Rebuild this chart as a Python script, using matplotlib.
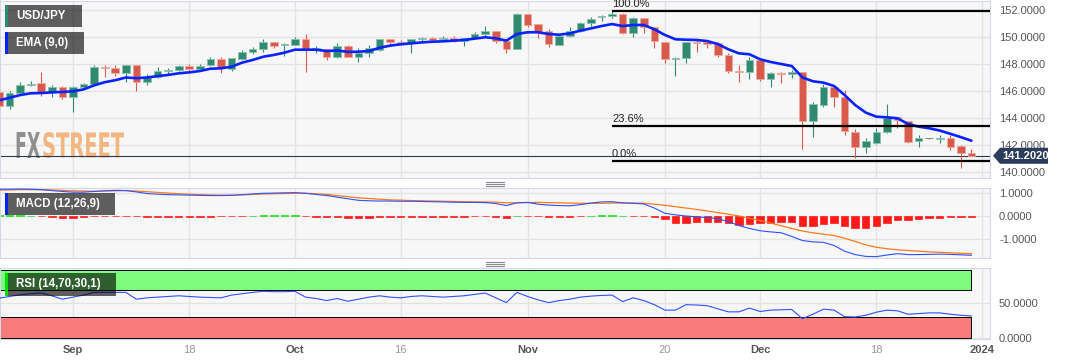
import numpy as np
import pandas as pd
import matplotlib
matplotlib.use("Agg")
from matplotlib import pyplot as plt
from matplotlib.patches import Rectangle, Polygon, PathPatch
from matplotlib.lines import Line2D
from matplotlib.textpath import TextPath
from matplotlib.font_manager import FontProperties
from matplotlib.path import Path

plt.rcParams['font.family'] = ['Liberation Sans', 'DejaVu Sans']

# trading days shown (Aug 23 .. Dec 29, 2023)
days = pd.bdate_range('2023-08-23', '2023-12-29')

opens = [145.95, 144.89, 145.88, 146.45, 146.57, 145.90, 146.27, 145.58, 146.27, 146.52, 147.80, 147.70, 147.36, 147.90, 146.64, 147.06, 147.46, 147.56,
         147.85, 147.65, 147.90, 148.37, 147.60, 148.37, 148.91, 149.09, 149.65, 149.43, 149.43, 149.85, 149.09, 149.14, 148.54, 149.33,
         148.54, 148.79, 149.04, 149.83, 149.60, 149.53, 149.85, 149.95, 149.83, 149.90, 149.70, 149.95, 150.25, 150.44, 149.70, 149.14, 151.70,
         150.96, 150.44, 149.41, 150.07, 150.47, 151.01, 151.46, 151.58, 151.68, 150.27, 151.43, 150.77, 149.65, 148.37, 148.42, 149.65,
         149.65, 149.53, 148.67, 147.51, 147.38, 148.30, 146.86, 147.36, 147.26, 147.43, 143.78, 144.96, 146.27, 145.58, 142.99, 141.88, 142.17,
         142.99, 144.05, 143.80, 142.30, 142.49, 142.47, 142.49, 141.95, 141.43]
highs = [146.15, 146.02, 146.69, 146.77, 147.40, 146.44, 146.37, 146.37, 146.62, 147.90, 147.90, 147.90, 147.90, 147.90, 147.26, 147.80, 147.68, 147.95,
         148.00, 147.98, 148.49, 148.54, 148.42, 149.04, 149.28, 149.83, 149.65, 149.58, 149.98, 150.20, 149.36, 149.14, 149.58, 149.41,
         149.16, 149.41, 149.83, 149.83, 149.78, 149.83, 149.98, 150.02, 150.07, 150.07, 149.95, 150.35, 150.81, 150.44, 149.83, 151.75, 151.70,
         150.96, 150.57, 150.07, 150.72, 151.11, 151.46, 151.63, 151.95, 151.80, 151.51, 151.43, 150.77, 149.65, 148.54, 149.65, 149.78,
         149.65, 149.65, 148.79, 147.93, 148.54, 148.42, 147.43, 147.43, 147.56, 147.43, 145.21, 146.52, 146.37, 146.07, 143.16, 142.49, 143.23,
         145.04, 144.10, 143.80, 142.74, 142.52, 142.74, 142.74, 142.00, 141.70]
lows = [144.70, 144.64, 145.78, 146.37, 145.63, 145.58, 145.38, 144.47, 146.12, 146.44, 147.06, 147.11, 146.69, 145.98, 146.44, 146.94, 147.26, 147.50,
        147.36, 147.51, 147.85, 147.36, 147.51, 148.30, 148.74, 148.91, 149.16, 148.59, 149.43, 147.41, 148.79, 148.27, 148.42, 148.49,
        148.17, 148.49, 148.99, 149.43, 149.41, 148.79, 149.53, 149.65, 149.73, 149.65, 149.36, 149.95, 150.02, 149.53, 148.84, 149.09, 150.72,
        149.90, 149.23, 149.41, 149.98, 150.40, 150.81, 151.21, 151.41, 150.20, 150.02, 150.32, 149.21, 148.10, 147.11, 148.05, 148.91,
        149.21, 148.54, 147.36, 146.69, 146.86, 146.72, 146.27, 146.57, 146.94, 141.68, 142.57, 144.84, 144.79, 142.74, 141.01, 141.43, 142.07,
        142.86, 143.28, 142.12, 141.88, 142.46, 142.12, 141.63, 140.27, 141.20]
closes = [144.89, 145.88, 146.44, 146.52, 145.93, 146.27, 145.58, 146.27, 146.52, 147.80, 147.70, 147.36, 147.90, 146.64, 147.06, 147.51, 147.56, 147.88,
          147.65, 147.88, 148.37, 147.73, 148.42, 148.89, 149.09, 149.65, 149.36, 149.48, 149.85, 149.09, 149.16, 148.54, 149.33, 148.54,
          148.79, 149.19, 149.83, 149.63, 149.53, 149.83, 149.90, 149.80, 149.90, 149.73, 149.90, 150.25, 150.44, 149.70, 149.14, 151.70, 150.89,
          150.40, 149.46, 150.07, 150.47, 151.01, 151.36, 151.58, 151.68, 150.27, 151.43, 150.77, 149.73, 148.35, 148.42, 149.65, 149.53,
          149.51, 148.67, 147.51, 147.38, 148.30, 146.91, 147.31, 147.26, 147.43, 143.78, 145.01, 146.27, 145.53, 143.04, 141.88, 142.30, 142.94,
          143.98, 143.85, 142.25, 142.49, 142.49, 142.54, 141.88, 141.43, 141.20]
ema9 = [145.3, 145.5, 145.7, 145.83, 145.85, 145.9, 145.93, 145.98, 146.12, 146.42, 146.65, 146.8, 147.0, 146.95, 147.0, 147.1, 147.19, 147.31,
        147.38, 147.48, 147.65, 147.68, 147.8, 148.1, 148.3, 148.54, 148.67, 148.84, 149.06, 149.06, 149.06, 148.96, 149.0, 148.9,
        148.91, 148.96, 149.2, 149.36, 149.46, 149.53, 149.6, 149.65, 149.68, 149.73, 149.78, 149.88, 149.98, 149.9, 149.73, 150.22, 150.35,
        150.35, 150.22, 150.17, 150.27, 150.47, 150.64, 150.81, 150.96, 150.81, 150.89, 150.89, 150.57, 150.15, 149.83, 149.8, 149.78,
        149.7, 149.48, 149.09, 148.79, 148.72, 148.35, 148.15, 148.0, 147.85, 147.01, 146.72, 146.62, 146.37, 145.7, 144.96, 144.4, 144.1,
        144.05, 143.98, 143.56, 143.36, 143.24, 143.07, 142.83, 142.58, 142.32]

macd_line = [1.18, 1.18, 1.19, 1.18, 1.16, 1.12, 1.08, 1.05, 1.05, 1.08, 1.11, 1.13, 1.12, 1.06, 0.99, 0.96, 0.94, 0.93,
             0.92, 0.91, 0.90, 0.90, 0.91, 0.94, 0.97, 1.00, 1.01, 1.02, 1.03, 1.00, 0.95, 0.90, 0.83, 0.76,
             0.69, 0.67, 0.66, 0.66, 0.65, 0.65, 0.64, 0.63, 0.62, 0.61, 0.60, 0.60, 0.59, 0.55, 0.46, 0.58, 0.60,
             0.52, 0.48, 0.46, 0.45, 0.50, 0.57, 0.62, 0.63, 0.58, 0.56, 0.53, 0.35, 0.12, 0.05, 0.00, -0.04,
             -0.07, -0.12, -0.25, -0.42, -0.55, -0.65, -0.70, -0.74, -0.90, -1.08, -1.14, -1.16, -1.30, -1.55, -1.70, -1.78, -1.79,
             -1.72, -1.66, -1.70, -1.70, -1.69, -1.68, -1.69, -1.71, -1.73]
signal_line = [1.14, 1.15, 1.16, 1.16, 1.16, 1.15, 1.13, 1.11, 1.10, 1.09, 1.10, 1.11, 1.12, 1.10, 1.07, 1.04, 1.01, 0.98,
               0.96, 0.94, 0.93, 0.92, 0.92, 0.93, 0.95, 0.97, 0.98, 0.99, 1.00, 1.00, 0.98, 0.95, 0.90, 0.85,
               0.80, 0.77, 0.74, 0.71, 0.70, 0.68, 0.67, 0.66, 0.65, 0.64, 0.63, 0.62, 0.62, 0.61, 0.58, 0.58, 0.59,
               0.60, 0.59, 0.58, 0.57, 0.56, 0.56, 0.56, 0.57, 0.57, 0.57, 0.56, 0.52, 0.47, 0.41, 0.35, 0.29,
               0.22, 0.15, 0.08, 0.00, -0.10, -0.20, -0.31, -0.43, -0.55, -0.66, -0.74, -0.80, -0.86, -0.98, -1.12, -1.27, -1.38,
               -1.44, -1.49, -1.52, -1.55, -1.58, -1.60, -1.62, -1.64, -1.66]
macd_hist = [0.03, 0.03, 0.03, 0.02, 0.00, -0.03, -0.07, -0.07, -0.06, -0.02, -0.01, -0.01, -0.01, -0.02, -0.03, -0.03, -0.03, -0.03,
             -0.03, -0.03, -0.03, -0.02, -0.02, 0.00, 0.02, 0.03, 0.03, 0.03, 0.03, 0.00, -0.03, -0.04, -0.05, -0.09,
             -0.09, -0.09, -0.04, -0.04, -0.04, -0.03, -0.03, -0.03, -0.03, -0.03, -0.03, -0.02, -0.02, -0.03, -0.08, 0.01, 0.00,
             -0.02, -0.04, -0.04, -0.03, -0.01, 0.01, 0.03, 0.04, 0.01, -0.01, -0.01, -0.03, -0.15, -0.30, -0.30, -0.25,
             -0.25, -0.25, -0.33, -0.38, -0.35, -0.33, -0.30, -0.25, -0.25, -0.42, -0.42, -0.35, -0.30, -0.42, -0.53, -0.53, -0.44,
             -0.30, -0.18, -0.17, -0.14, -0.10, -0.07, -0.05, -0.05, -0.05]
rsi14 = [57.5, 60, 62.4, 64, 65, 61, 56, 59, 62, 66, 66, 66, 66, 56, 58, 59, 60, 61,
         60, 59, 58.5, 58, 62, 64, 66, 67.5, 67, 67, 67.5, 59, 57, 54, 57, 53,
         56, 59, 61, 59, 58, 60, 61, 60, 59, 60, 61, 63, 65, 58, 51, 66, 60,
         55, 51, 54, 56, 59, 60.5, 61.5, 62, 52.5, 58, 54, 48, 40, 40, 48, 47.5,
         46.5, 42, 37.5, 37.5, 43, 38, 40, 40.5, 41, 27.5, 34, 41.5, 40, 30.5, 30, 32.5, 37,
         40, 39, 34, 35, 36, 36, 34, 32.5, 31.5]

fib_start = '2023-11-13'
fib_levels = [151.93, 143.42, 140.81]
fib_labels = ['100.0%', '23.6%', '0.0%']
last_price = 141.202

price_ticks = [140, 142, 144, 146, 148, 150, 152]
macd_ticks = [-1, 0, 1]
rsi_ticks = [0, 50]
tick_dates = ['2023-09-01', '2023-09-18', '2023-10-02', '2023-10-16', '2023-11-01',
              '2023-11-20', '2023-12-01', '2023-12-18', '2024-01-01']
tick_labels = ['Sep', '18', 'Oct', '16', 'Nov', '20', 'Dec', '18', '2024']

GREEN = '#2f8a70'
RED = '#d85a4b'
GREY = '#7a7a7a'
BG = '#f7f7f7'
GRID = '#e3e3e3'
SPINE = '#d3d8e5'

W, H = 1067, 360
fig = plt.figure(figsize=(W / 100, H / 100), dpi=100)
fig.patch.set_facecolor('white')


def px_box(x0, y0, x1, y1):
    # pixel box with top-left origin -> [left, bottom, width, height] in figure fraction
    return [x0 / W, 1 - y1 / H, (x1 - x0) / W, (y1 - y0) / H]


ax = fig.add_axes(px_box(0, 0.5, 990, 178))
ax_macd = fig.add_axes(px_box(0, 187.5, 990, 258))
ax_rsi = fig.add_axes(px_box(0, 268, 990, 338.5))

all_days = pd.bdate_range('2023-08-23', '2024-01-01')
offset = all_days.get_loc(pd.Timestamp('2023-09-01'))
x = np.arange(len(days)) - offset
tick_x = [all_days.get_loc(pd.Timestamp(d)) - offset for d in tick_dates]
fib_x = all_days.get_loc(pd.Timestamp(fib_start)) - offset
xmin, xmax = -73 / 10.57, (990 - 73) / 10.57

for a in (ax, ax_macd, ax_rsi):
    a.set_facecolor(BG)
    a.set_xlim(xmin, xmax)
    a.set_xticks(tick_x)
    a.grid(True, color=GRID, lw=1)
    a.set_axisbelow(True)
    a.yaxis.tick_right()
    a.tick_params(axis='y', length=0, pad=6.5, labelsize=8, labelcolor='#555555')
    a.tick_params(axis='x', length=0, labelbottom=False)
    for s in a.spines.values():
        s.set_color(SPINE)

# ---- price panel ----
for xi, o, h, l, c in zip(x, opens, highs, lows, closes):
    if c > o:
        col, edge = GREEN, '#8cc2b2'
    elif c < o:
        col, edge = RED, '#eeaaa2'
    else:
        col, edge = GREY, GREY
    ax.vlines(xi, l, h, color=col, lw=0.8, zorder=3)
    ax.add_patch(Rectangle((xi - 0.36, min(o, c)), 0.72, max(abs(c - o), 0.05),
                           fc=col, ec=edge, lw=0.6, zorder=4))

ax.plot(x, ema9, color='#0a22ff', lw=1.9, zorder=5, solid_capstyle='round')
ax.axhline(last_price, color='#2b3b57', lw=0.8, zorder=2)
for lvl, lab in zip(fib_levels, fib_labels):
    ax.hlines(lvl, fib_x, xmax, color='black', lw=1.6, zorder=6)
    ax.annotate(lab, (fib_x, lvl), xytext=(0, 1.5), textcoords='offset points',
                ha='left', va='bottom', fontsize=8, color='#222222', zorder=7)
# 152 sits at pixel row 10, 13.5 px per unit, panel spans rows 0.5..178
ax.set_ylim(152 - (178 - 10) / 13.5, 152 + 9.5 / 13.5)
ax.set_yticks(price_ticks)
ax.set_yticklabels([f'{t:.4f}' for t in price_ticks])

# ---- MACD panel ----
hist_cols = ['#22dd22' if v > 0 else '#ff1a1a' for v in macd_hist]
ax_macd.bar(x, macd_hist, width=0.7, color=hist_cols, edgecolor=hist_cols, lw=0.5, zorder=2)
ax_macd.plot(x, signal_line, color='#ff7a1a', lw=0.9, zorder=3)
ax_macd.plot(x, macd_line, color='#2f50ff', lw=0.8, zorder=4)
ax_macd.set_ylim(-42 / 22.7, 28.5 / 22.7)
ax_macd.set_yticks(macd_ticks)
ax_macd.set_yticklabels([f'{t:.4f}' for t in macd_ticks])

# ---- RSI panel ----
ax_rsi.add_patch(Rectangle((xmin, 70), x[-1] - xmin, 29, fc='#7dfb7d', ec='black', lw=0.7, zorder=1))
ax_rsi.add_patch(Rectangle((xmin, 0), x[-1] - xmin, 30, fc='#f97b7b', ec='black', lw=0.7, zorder=1))
ax_rsi.plot(x, rsi14, color='#2f50ff', lw=0.8, zorder=3)
ax_rsi.set_ylim(-1.0 / 0.684, 69.5 / 0.684)
ax_rsi.set_yticks(rsi_ticks)
ax_rsi.set_yticklabels([f'{t:.4f}' for t in rsi_ticks])
ax_rsi.tick_params(axis='x', labelbottom=True, pad=5, labelsize=8)
ax_rsi.set_xticklabels(tick_labels)
for t in ax_rsi.get_xticklabels():
    if t.get_text().isdigit() and len(t.get_text()) < 4:
        t.set_color('#999999')
    else:
        t.set_color('#555555')
        t.set_fontweight('bold')

# ---- label boxes ----
def label_box(x0, y0, x1, y1, stripe, text):
    fig.add_artist(Rectangle((x0 / W, 1 - y1 / H), (x1 - x0) / W, (y1 - y0) / H,
                             transform=fig.transFigure, fc='black', alpha=0.62, ec='none', zorder=20))
    fig.add_artist(Rectangle((x0 / W, 1 - y1 / H), 2.5 / W, (y1 - y0) / H,
                             transform=fig.transFigure, fc=stripe, ec='none', zorder=21))
    fig.text((x0 + 11.5) / W, 1 - (y0 + y1) / 2 / H, text, color='white', fontsize=8.3,
             fontweight='bold', ha='left', va='center', zorder=22)


label_box(5, 5, 82, 27, '#2a8c6c', 'USD/JPY')
label_box(5, 32, 84, 53.5, '#0022ff', 'EMA (9,0)')
label_box(5, 193, 114.5, 214.5, '#0022ff', 'MACD (12,26,9)')
label_box(5, 273, 115.5, 295.5, '#00dd00', 'RSI (14,70,30,1)')

# ---- FXSTREET watermark ----
def watermark(txt, x0, x1, y0, y1, color):
    tp = TextPath((0, 0), txt, size=1, prop=FontProperties(family='DejaVu Sans', weight='bold'))
    v = tp.vertices.copy()
    vx0, vy0 = v.min(axis=0)
    vx1, vy1 = v.max(axis=0)
    px = x0 + (v[:, 0] - vx0) / (vx1 - vx0) * (x1 - x0)
    py = y1 - (v[:, 1] - vy0) / (vy1 - vy0) * (y1 - y0)
    path = Path(np.column_stack([px / W, 1 - py / H]), tp.codes)
    ax.add_patch(PathPatch(path, transform=fig.transFigure, fc=color, ec='none',
                           clip_on=False, zorder=1.5))


watermark('FX', 15, 40, 132, 158, '#8f8f8f')
watermark('STREET', 42, 124, 132, 158, '#f2b680')

# ---- last price tag ----
yd = ax.transData.transform((0, last_price))[1]
tag = [(993, yd), (1000, yd + 8), (1048, yd + 8), (1048, yd - 8), (1000, yd - 8)]
fig.add_artist(Polygon([(p[0] / W, p[1] / H) for p in tag], closed=True,
                       transform=fig.transFigure, fc='#2c3d5b', ec='none', zorder=20))
fig.text(1002 / W, yd / H, f'{last_price:.4f}', color='white', fontsize=8,
         fontweight='bold', ha='left', va='center', zorder=21)

# ---- panel drag handles ----
for yy in (182, 184, 186, 262, 264, 266):
    fig.add_artist(Line2D([486 / W, 504 / W], [1 - yy / H, 1 - yy / H],
                          transform=fig.transFigure, color='#8a8a8a', lw=0.8))

fig.savefig('out.png', dpi=100)
